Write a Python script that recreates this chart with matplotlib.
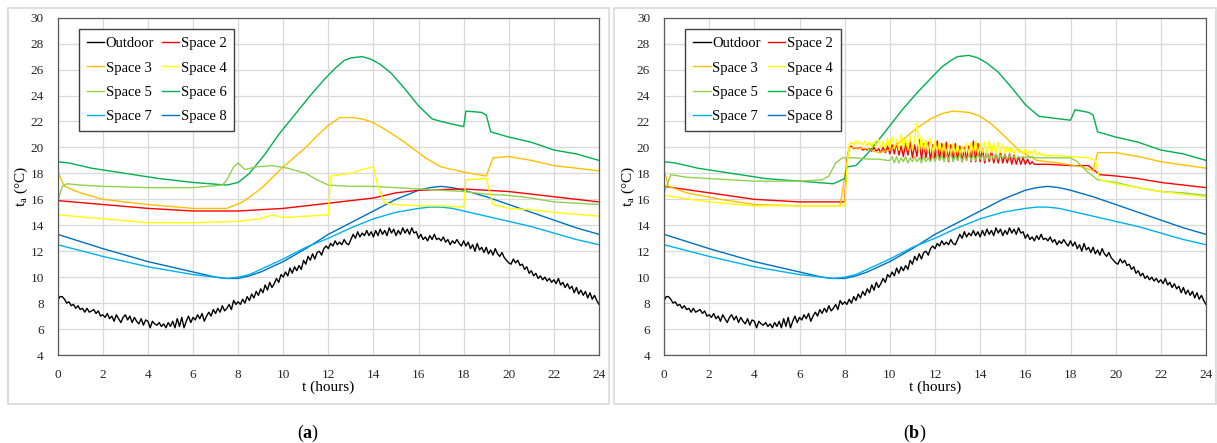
import numpy as np
import matplotlib.pyplot as plt
from matplotlib.patches import Rectangle

plt.rcParams['font.family'] = ['Liberation Serif', 'DejaVu Serif']
plt.rcParams['mathtext.fontset'] = 'custom'
plt.rcParams['mathtext.rm'] = 'Liberation Serif'
plt.rcParams['mathtext.bf'] = 'Liberation Serif:bold'

# outdoor temperature, every 0.1 h from 0 to 24 (same in both runs)
outdoor = [
    8.2, 8.5, 8.5, 8.3, 8.0, 8.1, 7.8, 7.9, 7.6, 7.8,
    7.5, 7.6, 7.3, 7.6, 7.3, 7.4, 7.5, 7.2, 7.4, 7.0,
    7.1, 6.9, 7.2, 6.8, 7.0, 6.6, 7.1, 6.8, 6.5, 6.9,
    7.1, 6.7, 7.0, 6.5, 6.9, 6.6, 6.4, 6.8, 6.3, 6.7,
    6.6, 6.1, 6.6, 6.4, 6.3, 6.5, 6.2, 6.4, 6.1, 6.5,
    6.2, 6.6, 6.1, 6.8, 6.2, 6.9, 6.1, 6.6, 7.0, 6.5,
    6.9, 6.7, 7.1, 6.8, 7.2, 6.6, 7.0, 7.3, 7.0, 7.5,
    7.2, 7.6, 7.3, 7.8, 7.4, 7.6, 7.9, 7.5, 8.2, 7.9,
    8.1, 7.9, 8.3, 8.0, 8.5, 8.2, 8.7, 8.4, 8.9, 8.6,
    9.1, 8.8, 9.4, 9.0, 9.6, 9.2, 9.5, 9.9, 9.6, 10.2,
    10.0, 10.4, 10.1, 10.7, 10.3, 10.8, 10.5, 10.9, 10.6, 11.3,
    11.0, 11.6, 11.3, 11.8, 11.4, 11.9, 12.0, 11.7, 12.2, 12.4,
    12.2, 12.6, 12.4, 12.8, 12.5, 12.7, 12.5, 12.9, 12.6, 12.5,
    12.9, 13.3, 13.0, 13.5, 13.1, 13.4, 13.2, 13.6, 13.2, 13.5,
    13.1, 13.6, 13.2, 13.7, 13.3, 13.6, 13.2, 13.8, 13.4, 13.7,
    13.2, 13.6, 13.3, 13.8, 13.4, 13.7, 13.3, 13.8, 13.4, 13.5,
    13.0, 13.3, 12.9, 13.1, 12.8, 13.2, 12.9, 13.3, 12.9, 13.0,
    12.8, 13.1, 12.7, 12.9, 12.5, 12.8, 12.6, 12.9, 12.6, 12.4,
    12.8, 12.4, 12.7, 12.2, 12.5, 12.0, 12.6, 12.1, 12.3, 11.9,
    12.3, 11.8, 12.1, 11.7, 12.2, 11.8, 11.6, 11.9, 11.5, 11.3,
    11.1, 11.0, 11.4, 11.1, 11.3, 10.9, 11.0, 10.6, 10.8, 10.3,
    10.5, 10.1, 10.3, 9.9, 10.1, 9.8, 10.0, 9.7, 9.9, 9.6,
    9.8, 9.5, 9.9, 9.4, 9.6, 9.2, 9.5, 9.1, 9.3, 8.8,
    9.2, 8.7, 9.0, 8.6, 8.9, 8.4, 8.8, 8.3, 8.6, 8.2,
    7.9,
]
t_out = np.linspace(0, 24, len(outdoor))

# spaces 7 and 8 (same in both runs)
t78 = [0, 2, 4, 6, 7, 7.5, 8, 8.5, 9, 10, 11, 12, 13, 14, 15, 16, 16.5, 17, 17.5, 18, 19, 20, 21,
       22, 23, 24]
space7 = [12.5, 11.6, 10.8, 10.2, 10.0, 9.9, 10.0, 10.2, 10.6, 11.4, 12.3, 13.0, 13.8, 14.5, 15.0,
          15.3, 15.4, 15.4, 15.3, 15.1, 14.7, 14.3, 13.9, 13.4, 12.9, 12.5]
space8 = [13.3, 12.2, 11.2, 10.4, 10.0, 9.9, 9.9, 10.1, 10.4, 11.2, 12.2, 13.3, 14.2, 15.1, 16.0,
          16.7, 16.9, 17.0, 16.9, 16.7, 16.2, 15.6, 15.0, 14.4, 13.8, 13.3]

# ---- case (a)
t2a = [0, 2, 4, 6, 8, 10, 12, 14, 15, 16, 18, 20, 22, 24]
space2a = [15.9, 15.6, 15.3, 15.1, 15.1, 15.3, 15.7, 16.1, 16.5, 16.7, 16.8, 16.6, 16.2, 15.8]

t3a = [0, 0.3, 1, 2, 4, 6, 7.5, 8.2, 9, 10, 11, 11.5, 12, 12.5, 13, 13.5, 14, 14.5, 15.3, 16.3, 17,
       18, 19, 19.3, 20, 21, 22, 24]
space3a = [18.1, 17.0, 16.5, 16.0, 15.6, 15.3, 15.3, 15.8, 16.8, 18.5, 20.0, 20.9, 21.7, 22.3, 22.3,
           22.2, 21.9, 21.4, 20.5, 19.2, 18.5, 18.1, 17.8, 19.2, 19.3, 19.0, 18.6, 18.2]

t4a = [0, 2, 4, 6, 8, 9, 9.5, 10, 11, 12, 12.1, 13, 13.5, 14, 14.2, 14.5, 15, 16, 17, 18, 18.1, 19,
       19.3, 20, 21, 22, 24]
space4a = [14.8, 14.5, 14.2, 14.2, 14.3, 14.5, 14.8, 14.6, 14.7, 14.8, 17.8, 18.0, 18.3, 18.5, 17.0,
           15.7, 15.6, 15.5, 15.5, 15.4, 17.5, 17.6, 15.6, 15.3, 15.2, 15.0, 14.7]

t5a = [0, 0.2, 0.4, 1, 2, 4, 6, 7.3, 7.5, 7.8, 8, 8.3, 8.8, 9.5, 10.2, 11, 11.5, 12, 13, 14, 15, 16,
       17, 18, 19, 20, 21, 22, 24]
space5a = [15.8, 17.0, 17.2, 17.1, 17.0, 16.9, 16.9, 17.1, 17.5, 18.5, 18.8, 18.3, 18.5, 18.6, 18.4,
           18.0, 17.5, 17.1, 17.0, 17.0, 16.9, 16.8, 16.7, 16.6, 16.4, 16.3, 16.1, 15.8, 15.6]

t6a = [0, 0.5, 1.5, 3, 4.5, 6, 7.5, 8, 8.5, 9.2, 9.8, 10.5, 11.2, 11.8, 12.3, 12.7, 13, 13.5, 13.9,
       14.3, 14.8, 15.4, 16, 16.6, 17, 18, 18.1, 18.8, 19, 19.2, 20, 21, 22, 23, 24]
space6a = [18.9, 18.8, 18.4, 18.0, 17.6, 17.3, 17.1, 17.3, 18.0, 19.5, 21.0, 22.5, 24.0, 25.2, 26.1,
           26.7, 26.9, 27.0, 26.8, 26.4, 25.7, 24.5, 23.2, 22.2, 22.0, 21.6, 22.8, 22.7, 22.5, 21.2,
           20.8, 20.4, 19.8, 19.5, 19.0]

# ---- case (b)
t2b_pre = [0, 2, 4, 6, 7.9, 8.0]
space2b_pre = [17.0, 16.5, 16.0, 15.8, 15.8, 15.8]
space2b_mid = [  # 8.1 .. 16.4 every 0.1 h
    19.0, 20.0, 20.1, 19.9, 20.0, 19.9, 20.0, 19.8, 19.9, 19.8,
    19.9, 19.7, 20.0, 19.7, 19.9, 19.6, 20.0, 19.6, 20.1, 19.5,
    20.2, 19.5, 20.4, 19.4, 20.1, 19.3, 20.3, 19.4, 20.5, 19.2,
    20.2, 19.3, 20.6, 19.1, 20.3, 19.2, 20.4, 19.0, 20.2, 19.1,
    20.5, 19.0, 20.3, 19.1, 20.4, 18.9, 20.2, 19.0, 20.3, 19.0,
    20.1, 18.9, 20.0, 19.0, 20.1, 18.9, 20.5, 18.9, 20.3, 18.9,
    19.9, 18.8, 19.8, 18.9, 19.7, 18.8, 19.6, 18.8, 19.6, 18.8,
    19.5, 18.8, 19.5, 18.7, 19.4, 18.7, 19.3, 18.7, 19.2, 18.7,
    19.1, 18.7, 18.9, 18.7,
]
t2b_post = [17, 18, 18.8, 19, 19.3, 20, 21, 22, 23, 24]
space2b_post = [18.7, 18.6, 18.6, 18.3, 17.9, 17.8, 17.6, 17.3, 17.1, 16.9]

t3b = [0, 0.2, 1, 2.5, 4, 6, 7.8, 8.2, 9, 9.5, 10, 10.5, 11.2, 11.8, 12.3, 12.8, 13.5, 14, 14.5, 15,
       15.7, 16.5, 17.5, 18.5, 19, 19.2, 20, 21, 22, 24]
space3b = [18.3, 17.0, 16.5, 16.0, 15.6, 15.5, 15.5, 20.0, 19.9, 19.6, 19.8, 20.5, 21.5, 22.2, 22.6,
           22.8, 22.7, 22.4, 21.8, 21.0, 19.8, 19.0, 18.8, 18.5, 18.2, 19.6, 19.6, 19.3, 18.9, 18.4]

t4b_pre = [0, 2, 4, 6, 7.9, 8.0]
space4b_pre = [16.3, 15.8, 15.5, 15.5, 15.5, 15.5]
space4b_mid = [  # 8.1 .. 17.0 every 0.1 h
    18.5, 20.2, 20.4, 20.2, 20.5, 20.3, 20.4, 20.2, 20.5, 20.1,
    20.4, 20.0, 20.5, 20.1, 20.6, 20.0, 20.5, 19.9, 20.7, 20.0,
    20.8, 19.9, 20.6, 19.8, 21.0, 19.9, 20.7, 19.8, 20.9, 19.8,
    20.6, 21.9, 19.7, 20.8, 19.8, 20.6, 19.7, 20.7, 19.6, 20.5,
    19.7, 20.4, 19.6, 20.3, 19.5, 20.2, 19.6, 20.3, 19.5, 20.2,
    19.5, 20.1, 19.6, 20.3, 19.5, 20.4, 19.6, 20.5, 19.5, 20.3,
    19.6, 20.4, 19.5, 20.5, 19.6, 20.3, 19.5, 20.4, 19.6, 20.2,
    19.5, 20.1, 19.6, 20.0, 19.5, 19.9, 19.6, 19.8, 19.5, 19.9,
    19.5, 19.7, 19.5, 19.8, 19.4, 19.6, 19.4, 19.5, 19.3, 19.4,
]
t4b_post = [18, 18.8, 19.1, 19.3, 20, 21, 22, 23, 24]
space4b_post = [19.3, 19.2, 19.0, 17.5, 17.2, 16.9, 16.6, 16.4, 16.2]

t5b_pre = [0, 0.3, 1, 2, 3, 4, 5, 6, 7, 7.3, 7.6, 7.9, 8.5, 9, 9.5, 9.9]
space5b_pre = [16.5, 17.9, 17.7, 17.6, 17.5, 17.4, 17.4, 17.4, 17.5, 17.8, 18.8, 19.2, 19.2, 19.1,
               19.1, 19.0]
space5b_mid = [  # 10.0 .. 16.5 every 0.1 h
    19.0, 19.3, 18.8, 19.3, 18.8, 19.2, 18.9, 19.3, 18.8, 19.2,
    18.9, 19.3, 18.9, 19.2, 18.8, 19.3, 18.9, 19.2, 18.9, 19.4,
    18.9, 19.5, 19.0, 19.4, 18.9, 19.5, 19.0, 19.6, 18.9, 19.4,
    19.0, 19.5, 18.9, 19.4, 19.0, 19.5, 19.0, 19.4, 19.0, 19.5,
    19.1, 19.4, 19.0, 19.5, 19.1, 19.4, 19.1, 19.5, 19.1, 19.4,
    19.2, 19.4, 19.1, 19.4, 19.2, 19.3, 19.1, 19.3, 19.2, 19.3,
    19.2, 19.3, 19.2, 19.3, 19.2, 19.2,
]
t5b_post = [17, 18, 18.3, 18.7, 19.2, 20, 21, 22, 23, 24]
space5b_post = [19.2, 19.2, 18.9, 18.2, 17.5, 17.3, 16.9, 16.6, 16.5, 16.3]

t6b = [0, 0.5, 1.5, 3, 4.5, 6, 7.5, 8, 8.1, 8.5, 9, 9.7, 10.5, 11.2, 11.8, 12.3, 12.7, 13, 13.5,
       13.9, 14.3, 14.8, 15.4, 16, 16.6, 17.5, 18, 18.2, 18.8, 19, 19.2, 20, 21, 22, 23, 24]
space6b = [18.9, 18.8, 18.4, 18.0, 17.6, 17.4, 17.2, 17.6, 18.5, 18.6, 19.5, 21.0, 22.8, 24.2, 25.3,
           26.2, 26.7, 27.0, 27.1, 26.9, 26.5, 25.8, 24.6, 23.3, 22.4, 22.2, 22.1, 22.9, 22.7, 22.5,
           21.2, 20.8, 20.4, 19.8, 19.5, 19.0]

colors = {
    'Outdoor': 'black', 'Space 2': '#ff0000', 'Space 3': '#ffc000', 'Space 4': '#ffff00',
    'Space 5': '#92d050', 'Space 6': '#00b050', 'Space 7': '#00b0f0', 'Space 8': '#0070c0',
}


def seg(pre_t, pre_v, start, mid_v, post_t, post_v):
    mid_t = list(np.round(start + 0.1 * np.arange(len(mid_v)), 2))
    return list(pre_t) + mid_t + list(post_t), list(pre_v) + list(mid_v) + list(post_v)


case_a = {
    'Outdoor': (t_out, outdoor),
    'Space 2': (t2a, space2a),
    'Space 3': (t3a, space3a),
    'Space 4': (t4a, space4a),
    'Space 5': (t5a, space5a),
    'Space 6': (t6a, space6a),
    'Space 7': (t78, space7),
    'Space 8': (t78, space8),
}
case_b = {
    'Outdoor': (t_out, outdoor),
    'Space 2': seg(t2b_pre, space2b_pre, 8.1, space2b_mid, t2b_post, space2b_post),
    'Space 3': (t3b, space3b),
    'Space 4': seg(t4b_pre, space4b_pre, 8.1, space4b_mid, t4b_post, space4b_post),
    'Space 5': seg(t5b_pre, space5b_pre, 10.0, space5b_mid, t5b_post, space5b_post),
    'Space 6': (t6b, space6b),
    'Space 7': (t78, space7),
    'Space 8': (t78, space8),
}

W, H = 1217, 443
fig = plt.figure(figsize=(W / 100, H / 100), dpi=100)

draw_order = ['Space 8', 'Space 7', 'Space 2', 'Space 3', 'Space 6', 'Space 5', 'Space 4', 'Outdoor']
# matplotlib fills legend columns first, so this gives the row layout of the original
legend_order = ['Outdoor', 'Space 3', 'Space 5', 'Space 7', 'Space 2', 'Space 4', 'Space 6', 'Space 8']

panels = [(case_a, 57.7, 599, 8, 609, 'a'), (case_b, 664, 1206, 614, 1216, 'b')]
for data, x0, x1, b0, b1, tag in panels:
    # grey frame round each panel
    fig.add_artist(Rectangle((b0 / W, 1 - 404 / H), (b1 - b0) / W, (404 - 8) / H,
                             transform=fig.transFigure, fill=False, ec='#d9d9d9', lw=1.2))
    ax = fig.add_axes([x0 / W, 1 - 355 / H, (x1 - x0) / W, (355 - 17.7) / H])
    lines = {}
    for name in draw_order:
        tx, vy = data[name]
        lines[name], = ax.plot(tx, vy, color=colors[name], lw=1.0, label=name)
    ax.set_xlim(0, 24)
    ax.set_ylim(4, 30)
    ax.set_xticks(range(0, 25, 2))
    ax.set_yticks(range(4, 31, 2))
    ax.grid(True, color='#d9d9d9', lw=0.9)
    ax.set_axisbelow(True)
    ax.tick_params(length=0, labelsize=9.5, colors='#262626')
    ax.tick_params(axis='x', pad=10)
    ax.tick_params(axis='y', pad=10)
    for sp in ax.spines.values():
        sp.set_color('#595959')
        sp.set_linewidth(0.9)
    ax.set_xlabel('t (hours)', fontsize=11, labelpad=0)
    ax.set_ylabel(r't$_\mathrm{a}$ (°C)', fontsize=11, labelpad=0)
    leg = ax.legend([lines[n] for n in legend_order], legend_order, ncol=2, loc='upper left',
                    bbox_to_anchor=(0.039, 0.966), fontsize=10.5, frameon=True, fancybox=False,
                    edgecolor='#404040', framealpha=1, handlelength=1.2, handletextpad=0.1,
                    columnspacing=0.5, labelspacing=0.75, borderpad=0.55, borderaxespad=0)
    leg.get_frame().set_linewidth(1.0)
    fig.text(((b0 + b1) / 2) / W, 1 - 433 / H, r'($\mathbf{%s}$)' % tag, ha='center', va='center',
             fontsize=13)

fig.savefig('out.png', dpi=100)
